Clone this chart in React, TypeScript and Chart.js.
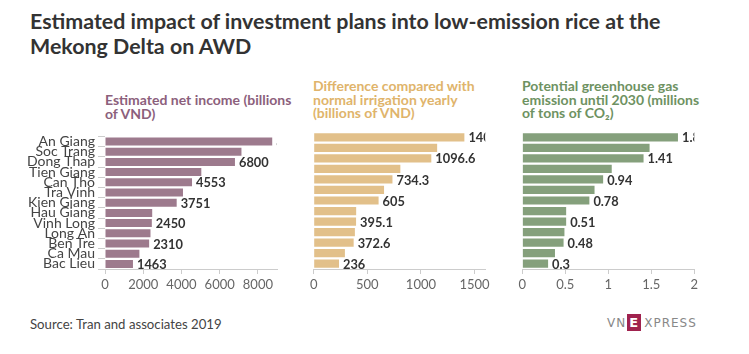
import React, { useEffect, useRef } from "react";
import { Chart, registerables } from "chart.js";

Chart.register(...registerables);

const categories = ["An Giang", "Soc Trang", "Dong Thap", "Tien Giang", "Can Tho", "Tra Vinh", "Kien Giang", "Hau Giang", "Vinh Long", "Long An", "Ben Tre", "Ca Mau", "Bac Lieu"];
const netIncome = [8750, 7140, 6800, 5040, 4553, 4080, 3751, 2470, 2450, 2380, 2310, 1800, 1463];
const irrigationDiff = [1405, 1151, 1096.6, 808, 734.3, 656, 605, 396, 395.1, 384, 372.6, 291, 236];
const emission = [1.81, 1.48, 1.41, 1.04, 0.94, 0.84, 0.78, 0.51, 0.51, 0.49, 0.48, 0.38, 0.3];

const incomeTicks = { max: 9000, step: 2000 };
const diffTicks = { max: 1600, step: 500 };
const emissionTicks = { max: 2, step: 0.5 };

const FONT = "Lato, 'Noto Sans', sans-serif";

const valueLabels = {
  id: "valueLabels",
  afterDatasetsDraw(chart: any) {
    const { ctx, chartArea } = chart;
    const meta = chart.getDatasetMeta(0);
    const data = chart.data.datasets[0].data;
    ctx.save();
    ctx.beginPath();
    ctx.rect(chartArea.left, chartArea.top - 10, chartArea.right - chartArea.left, chartArea.bottom - chartArea.top + 20);
    ctx.clip();
    ctx.font = `bold 12.8px ${FONT}`;
    ctx.fillStyle = "#333";
    ctx.textAlign = "left";
    ctx.textBaseline = "middle";
    meta.data.forEach((bar: any, i: number) => {
      if (i % 2 !== 0) return;
      ctx.fillText(String(data[i]), bar.x + 4, bar.y + 1);
    });
    ctx.restore();
  },
};

function makeConfig(values: number[], color: string, tickCfg: { max: number; step: number }, showY: boolean, padL: number, padR: number) {
  return {
    type: "bar" as const,
    data: {
      labels: categories,
      datasets: [
        {
          data: values,
          backgroundColor: color,
          borderWidth: 0,
          barPercentage: 0.78,
          categoryPercentage: 1,
        },
      ],
    },
    options: {
      indexAxis: "y" as const,
      responsive: false,
      animation: false as const,
      devicePixelRatio: 1,
      layout: { padding: { left: padL, right: padR, top: 7, bottom: 0 } },
      plugins: { legend: { display: false }, tooltip: { enabled: false } },
      scales: {
        x: {
          type: "linear" as const,
          min: 0,
          max: tickCfg.max,
          grid: { drawOnChartArea: false, drawTicks: true, tickLength: 5, color: "#ccc" },
          border: { display: true, color: "#ccc" },
          ticks: {
            stepSize: tickCfg.step,
            color: "#666",
            padding: 3,
            maxRotation: 0,
            minRotation: 0,
            autoSkip: false,
            font: { family: FONT, size: 13 },
            callback: (v: any) => String(v),
          },
          afterBuildTicks: (scale: any) => {
            const t: { value: number }[] = [];
            const n = Math.floor(tickCfg.max / tickCfg.step + 1e-9);
            for (let k = 0; k <= n; k++) t.push({ value: Math.round(k * tickCfg.step * 1000) / 1000 });
            scale.ticks = t;
          },
          afterFit: (scale: any) => {
            scale.height = 26;
          },
        },
        y: {
          display: showY,
          grid: { drawOnChartArea: false, drawTicks: true, tickLength: 7, color: "#ccc" },
          border: { display: false },
          ticks: {
            color: "#444",
            padding: 3,
            autoSkip: false,
            font: { family: FONT, size: 14 },
          },
          afterFit: (scale: any) => {
            if (showY) scale.width = 105;
            else scale.width = 0;
          },
        },
      },
    },
    plugins: [valueLabels],
  };
}

export default function App() {
  const c1 = useRef<HTMLCanvasElement>(null);
  const c2 = useRef<HTMLCanvasElement>(null);
  const c3 = useRef<HTMLCanvasElement>(null);

  useEffect(() => {
    const charts = [
      new Chart(c1.current!, makeConfig(netIncome, "#9d7a8d", incomeTicks, true, 0, 13) as any),
      new Chart(c2.current!, makeConfig(irrigationDiff, "#e2c08a", diffTicks, false, 23.7, 14.7) as any),
      new Chart(c3.current!, makeConfig(emission, "#85a07c", emissionTicks, false, 22.3, 15.7) as any),
    ];
    return () => charts.forEach((c) => c.destroy());
  }, []);

  const canvasStyle = (left: number, width: number): React.CSSProperties => ({
    position: "absolute",
    left,
    top: 125,
    width,
    height: 170,
  });

  const panelTitle = (left: number, top: number, color: string): React.CSSProperties => ({
    position: "absolute",
    left,
    top,
    fontFamily: FONT,
    fontWeight: 700,
    fontSize: 14,
    lineHeight: "13.7px",
    color,
    whiteSpace: "nowrap",
  });

  return (
    <div style={{ position: "fixed", left: 0, top: 0, width: 749, height: 354, background: "#fff", overflow: "hidden", fontFamily: FONT }}>
      <div style={{ position: "absolute", left: 30, top: 9, fontSize: 21.4, fontWeight: 700, lineHeight: "25px", color: "#333", whiteSpace: "nowrap" }}>
        Estimated impact of investment plans into low-emission rice at the
        <br />
        Mekong Delta on AWD
      </div>

      <div style={panelTitle(105, 93, "#8c607c")}>
        Estimated net income (billions
        <br />
        of VND)
      </div>
      <div style={panelTitle(313, 79, "#e0b46b")}>
        Difference compared with
        <br />
        normal irrigation yearly
        <br />
        (billions of VND)
      </div>
      <div style={panelTitle(522, 79, "#6e9262")}>
        Potential greenhouse gas
        <br />
        emission until 2030 (millions
        <br />
        of tons of CO₂)
      </div>

      <canvas ref={c1} width={290} height={170} style={canvasStyle(0, 290)} />
      <canvas ref={c2} width={210} height={170} style={canvasStyle(290, 210)} />
      <canvas ref={c3} width={210} height={170} style={canvasStyle(500, 210)} />

      <div style={{ position: "absolute", left: 30, top: 316, fontSize: 13.2, color: "#444", whiteSpace: "nowrap" }}>
        Source: Tran and associates 2019
      </div>

      <div style={{ position: "absolute", left: 607, top: 314, height: 17, display: "flex", alignItems: "center", fontFamily: "'DejaVu Sans', sans-serif", fontSize: 12, color: "#888", letterSpacing: 1 }}>
        <span>VN</span>
        <span style={{ display: "inline-block", width: 14, height: 17, background: "#a0224e", color: "#fff", textAlign: "center", lineHeight: "17px", margin: "0 3px 0 1px", fontSize: 13, fontWeight: 700 }}>E</span>
        <span>XPRESS</span>
      </div>
    </div>
  );
}
